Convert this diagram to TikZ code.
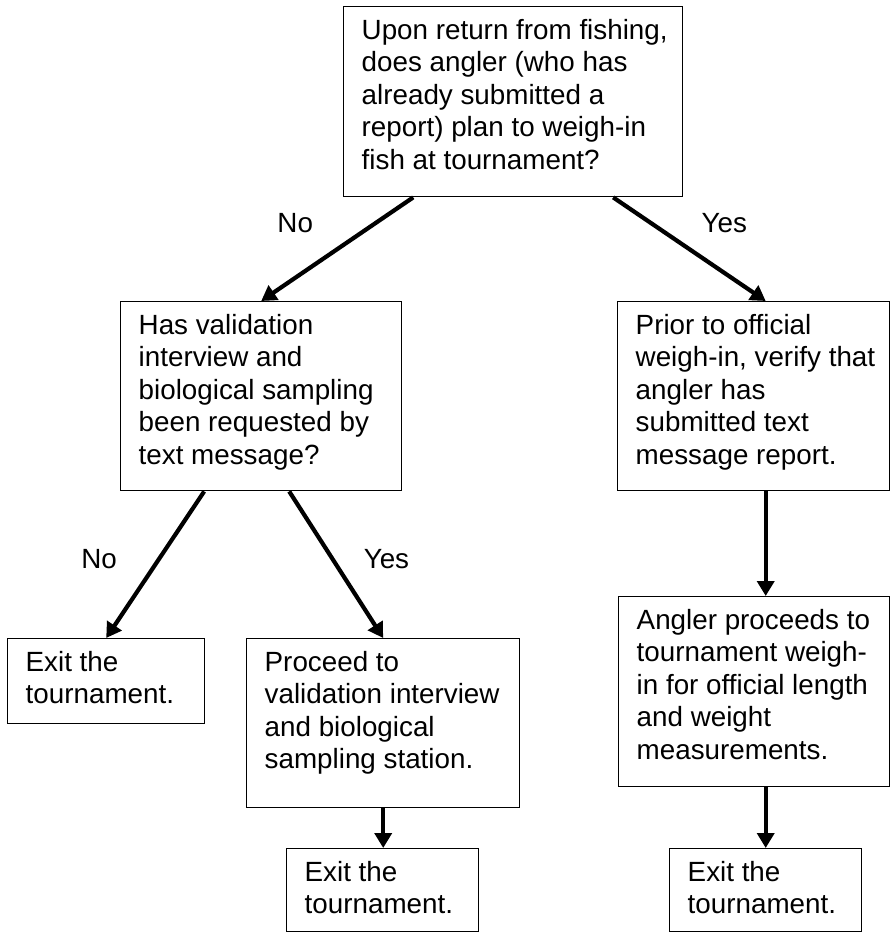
\documentclass[tikz,border=0pt]{standalone}
\usepackage{fontspec}
\setmainfont{Liberation Sans}
\usetikzlibrary{arrows.meta}
\newcommand{\boxlines}[3]{\parbox[c][#2][t]{#1}{\begin{tabular}{@{}l@{}}#3\end{tabular}}}

\begin{document}
\begin{tikzpicture}[x=1pt, y=-1pt, font=\fontsize{27.8}{32.5}\selectfont,
	main/.style = {draw, line width=1.4pt, anchor=north west, inner xsep=18pt, inner ysep=10pt},
	arr/.style = {line width=4.2pt, -{Triangle[length=15pt, width=17pt]}}]
	\useasboundingbox (0,0) rectangle (891,933);
	\node[main] (1) at (343,6) {\boxlines{303pt}{170pt}{Upon return from fishing,\\ does angler (who has\\ already submitted a\\ report) plan to weigh-in\\ fish at tournament?}};
	\node[main] (2) at (120,301) {\boxlines{245pt}{169pt}{Has validation\\ interview and\\ biological sampling\\ been requested by\\ text message?}};
	\node[main] (8) at (669,848) {\boxlines{156pt}{63pt}{Exit the\\ tournament.}};
	\node[main] (3) at (617,301) {\boxlines{236pt}{169pt}{Prior to official\\ weigh-in, verify that\\ angler has\\ submitted text\\ message report.}};
	\draw[arr] ([xshift=-100pt]1.south) -- (2.north) node [pos=0.25, xshift=-80pt] {No};
	\draw[arr] ([xshift=100pt]1.south) -- (3.north -| 8.north) node [pos=0.25, xshift=73pt] {Yes};
	\node[main] (4) at (7,638) {\boxlines{161pt}{65pt}{Exit the\\ tournament.}};
	\draw[arr] ([xshift=-57pt]2.south) -- (4.north) node [pos=0.46, xshift=-60pt] {No};
	\node[main] (5) at (246,638) {\boxlines{237pt}{149pt}{Proceed to\\ validation interview\\ and biological\\ sampling station.}};
	\draw[arr] ([xshift=28pt]2.south) -- (5.north) node [pos=0.46, xshift=54pt] {Yes};
	\node[main] (7) at (286,848) {\boxlines{156pt}{63pt}{Exit the\\ tournament.}};
	\draw[arr] (5.south) -- (5.south |- 7.north);
	\node[main] (6) at (618,596) {\boxlines{235pt}{170pt}{Angler proceeds to\\ tournament weigh-\\ in for official length\\ and weight\\ measurements.}};
	\draw[arr] (3.south -| 8.north) -- (6.north -| 8.north);
	\draw[arr] (6.south -| 8.north) -- (8.north);
\end{tikzpicture}
\end{document}
